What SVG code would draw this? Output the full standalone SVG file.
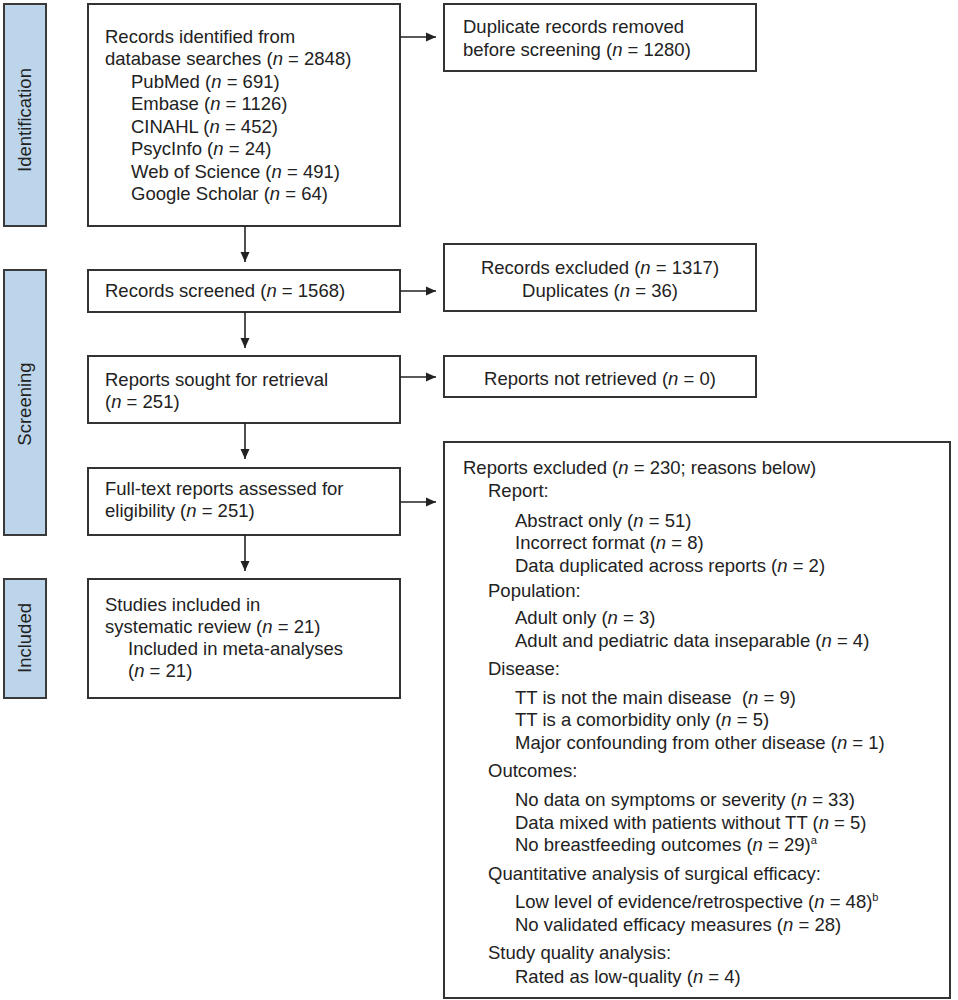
<svg xmlns="http://www.w3.org/2000/svg" width="958" height="1000" viewBox="0 0 958 1000">
<defs>
<marker id="ah" markerUnits="userSpaceOnUse" markerWidth="11" markerHeight="11" refX="10" refY="5.5" orient="auto">
<path d="M0,1 L10,5.5 L0,10 z" fill="#222"/>
</marker>
<style>
.box{fill:#fff;stroke:#333;stroke-width:2}
.bar{fill:#bcd5ea;stroke:#3a3a3a;stroke-width:2}
text{font-family:"Liberation Sans",Arial,Helvetica,sans-serif;font-size:18.5px;fill:#222}
.ln{stroke:#222;stroke-width:1.6;fill:none;marker-end:url(#ah)}
.sup{font-size:11px}
</style>
</defs>
<rect width="958" height="1000" fill="#fff"/>

<g id="stage-identification">
<rect class="bar" x="4" y="4" width="42" height="222"/>
<text transform="translate(31,120) rotate(-90)" text-anchor="middle">Identification</text>
</g>
<g id="stage-screening">
<rect class="bar" x="4" y="270" width="42" height="265"/>
<text transform="translate(31,404) rotate(-90)" text-anchor="middle">Screening</text>
</g>
<g id="stage-included">
<rect class="bar" x="4" y="579" width="42" height="119"/>
<text transform="translate(31,638) rotate(-90)" text-anchor="middle">Included</text>
</g>

<g id="records-identified">
<rect class="box" x="88" y="4" width="312" height="222"/>
<text x="105" y="43">Records identified from</text>
<text x="105" y="65">database searches (<tspan font-style="italic">n</tspan> = 2848)</text>
<text x="131" y="88">PubMed (<tspan font-style="italic">n</tspan> = 691)</text>
<text x="131" y="110">Embase (<tspan font-style="italic">n</tspan> = 1126)</text>
<text x="131" y="133">CINAHL (<tspan font-style="italic">n</tspan> = 452)</text>
<text x="131" y="155">PsycInfo (<tspan font-style="italic">n</tspan> = 24)</text>
<text x="131" y="178">Web of Science (<tspan font-style="italic">n</tspan> = 491)</text>
<text x="131" y="200">Google Scholar (<tspan font-style="italic">n</tspan> = 64)</text>
</g>

<g id="duplicates-removed">
<rect class="box" x="444" y="4" width="312" height="67"/>
<text x="463" y="33">Duplicate records removed</text>
<text x="463" y="56">before screening (<tspan font-style="italic">n</tspan> = 1280)</text>
</g>

<g id="records-screened">
<rect class="box" x="88" y="270" width="312" height="42"/>
<text x="105" y="297">Records screened (<tspan font-style="italic">n</tspan> = 1568)</text>
</g>

<g id="records-excluded">
<rect class="box" x="444" y="244" width="312" height="67"/>
<text x="600" y="274" text-anchor="middle">Records excluded (<tspan font-style="italic">n</tspan> = 1317)</text>
<text x="600" y="297" text-anchor="middle">Duplicates (<tspan font-style="italic">n</tspan> = 36)</text>
</g>

<g id="reports-sought">
<rect class="box" x="88" y="356" width="312" height="67"/>
<text x="105" y="386">Reports sought for retrieval</text>
<text x="105" y="408">(<tspan font-style="italic">n</tspan> = 251)</text>
</g>

<g id="reports-not-retrieved">
<rect class="box" x="444" y="356" width="312" height="41"/>
<text x="600" y="385" text-anchor="middle">Reports not retrieved (<tspan font-style="italic">n</tspan> = 0)</text>
</g>

<g id="full-text-assessed">
<rect class="box" x="88" y="468" width="312" height="67"/>
<text x="105" y="495">Full-text reports assessed for</text>
<text x="105" y="517">eligibility (<tspan font-style="italic">n</tspan> = 251)</text>
</g>

<g id="studies-included">
<rect class="box" x="88" y="579" width="312" height="119"/>
<text x="105" y="611">Studies included in</text>
<text x="105" y="633">systematic review (<tspan font-style="italic">n</tspan> = 21)</text>
<text x="128" y="655">Included in meta-analyses</text>
<text x="128" y="677">(<tspan font-style="italic">n</tspan> = 21)</text>
</g>

<g id="reports-excluded">
<rect class="box" x="444" y="442" width="506" height="556"/>
<text x="463" y="474">Reports excluded (<tspan font-style="italic">n</tspan> = 230; reasons below)</text>
<text x="488" y="497">Report:</text>
<text x="515" y="527">Abstract only (<tspan font-style="italic">n</tspan> = 51)</text>
<text x="515" y="549">Incorrect format (<tspan font-style="italic">n</tspan> = 8)</text>
<text x="515" y="572">Data duplicated across reports (<tspan font-style="italic">n</tspan> = 2)</text>
<text x="488" y="597">Population:</text>
<text x="515" y="624">Adult only (<tspan font-style="italic">n</tspan> = 3)</text>
<text x="515" y="647">Adult and pediatric data inseparable (<tspan font-style="italic">n</tspan> = 4)</text>
<text x="488" y="675">Disease:</text>
<text x="515" y="704" xml:space="preserve">TT is not the main disease  (<tspan font-style="italic">n</tspan> = 9)</text>
<text x="515" y="726">TT is a comorbidity only (<tspan font-style="italic">n</tspan> = 5)</text>
<text x="515" y="749">Major confounding from other disease (<tspan font-style="italic">n</tspan> = 1)</text>
<text x="488" y="777">Outcomes:</text>
<text x="515" y="806">No data on symptoms or severity (<tspan font-style="italic">n</tspan> = 33)</text>
<text x="515" y="829">Data mixed with patients without TT (<tspan font-style="italic">n</tspan> = 5)</text>
<text x="515" y="851">No breastfeeding outcomes (<tspan font-style="italic">n</tspan> = 29)<tspan class="sup" dy="-7">a</tspan></text>
<text x="488" y="880">Quantitative analysis of surgical efficacy:</text>
<text x="515" y="908">Low level of evidence/retrospective (<tspan font-style="italic">n</tspan> = 48)<tspan class="sup" dy="-7">b</tspan></text>
<text x="515" y="931">No validated efficacy measures (<tspan font-style="italic">n</tspan> = 28)</text>
<text x="488" y="959">Study quality analysis:</text>
<text x="515" y="983">Rated as low-quality (<tspan font-style="italic">n</tspan> = 4)</text>
</g>

<g id="connectors">
<line class="ln" x1="400" y1="37" x2="436" y2="37"/>
<line class="ln" x1="245" y1="226" x2="245" y2="262"/>
<line class="ln" x1="400" y1="291" x2="436" y2="291"/>
<line class="ln" x1="245" y1="312" x2="245" y2="348"/>
<line class="ln" x1="400" y1="377" x2="436" y2="377"/>
<line class="ln" x1="245" y1="423" x2="245" y2="459"/>
<line class="ln" x1="400" y1="502" x2="436" y2="502"/>
<line class="ln" x1="245" y1="535" x2="245" y2="571"/>
</g>
</svg>
